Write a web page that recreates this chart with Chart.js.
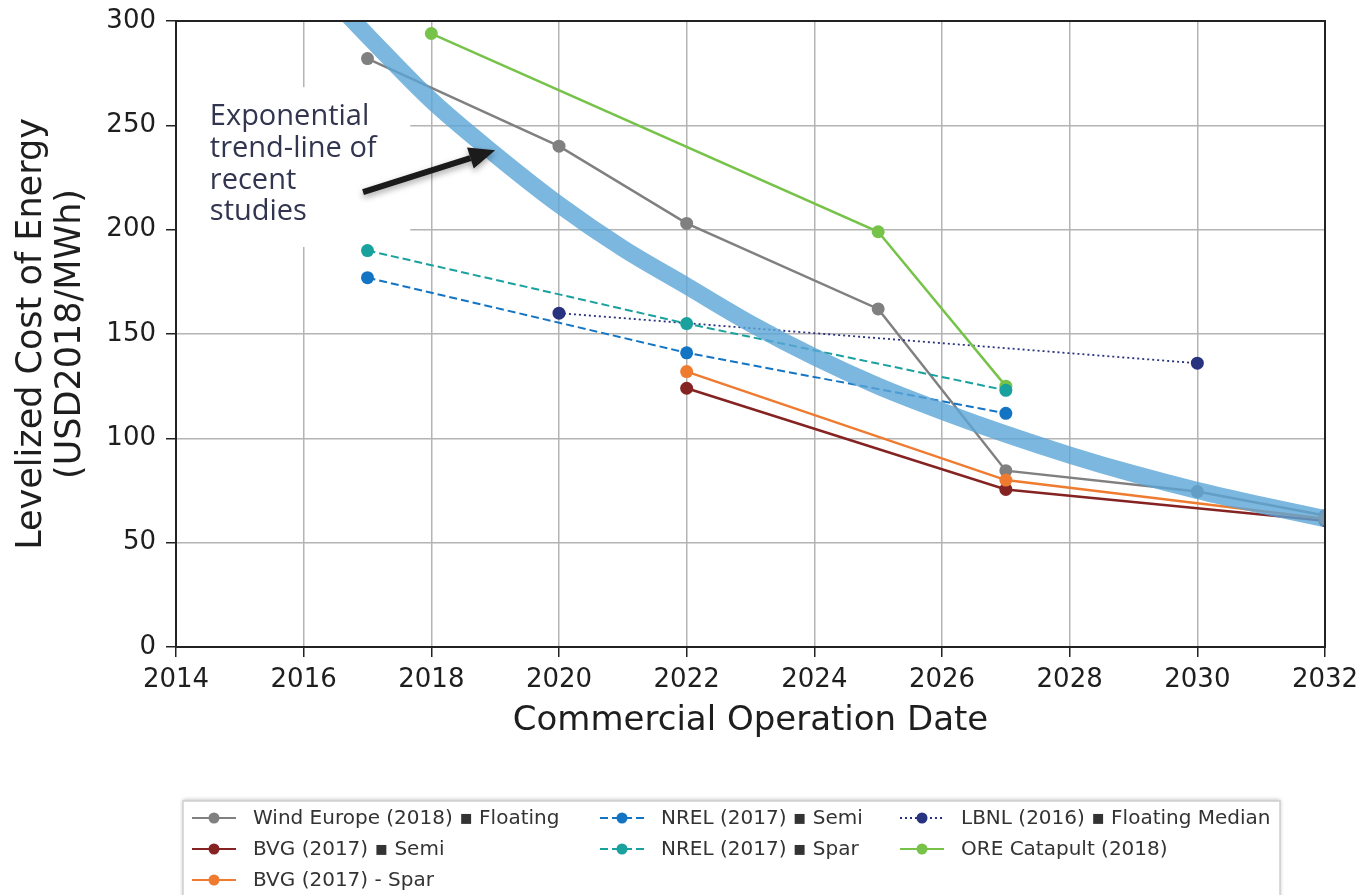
<!DOCTYPE html>
<html>
<head>
<meta charset="utf-8">
<script src="https://cdn.jsdelivr.net/npm/chart.js@4.4.1/dist/chart.umd.min.js"></script>
<style>
  html, body { margin: 0; background: #fff; }
  #wrap { width: 1363px; height: 895px; position: relative; }
</style>
</head>
<body>
<div id="wrap"><canvas id="lcoe"></canvas></div>
<script>
// ── Axis ticks ─────────────────────────────────────────────────────────────
const xTicks = [2014, 2016, 2018, 2020, 2022, 2024, 2026, 2028, 2030, 2032];
const yTicks = [0, 50, 100, 150, 200, 250, 300];

// ── Study estimates (USD2018/MWh by commercial operation year) ─────────────
const windEuropeYears = [2017, 2020, 2022, 2025, 2027, 2030, 2032];
const windEuropeLcoe  = [282, 240, 203, 162, 84.5, 74.5, 63];

const bvgSemiYears = [2022, 2027, 2032];
const bvgSemiLcoe  = [124, 75.5, 60.5];

const bvgSparYears = [2022, 2027, 2032];
const bvgSparLcoe  = [132, 80, 61.5];

const nrelSemiYears = [2017, 2022, 2027];
const nrelSemiLcoe  = [177, 141, 112];

const nrelSparYears = [2017, 2022, 2027];
const nrelSparLcoe  = [190, 155, 123];

const lbnlYears = [2020, 2030];
const lbnlLcoe  = [160, 136];

const oreYears = [2018, 2025, 2027];
const oreLcoe  = [294, 199, 125];

// exponential trend of the studies above
const trendYears = [2016.5, 2017, 2018, 2019, 2020, 2021, 2022, 2023, 2024, 2025, 2026, 2027, 2028, 2029, 2030, 2031, 2032];
const trendLcoe  = [309, 293, 262, 236, 212, 191, 173, 155, 139, 125, 113, 102, 92, 83, 75, 68, 61.5];

const NOTE_LINES = ['Exponential', 'trend-line of', 'recent', 'studies'];

// ── Look ───────────────────────────────────────────────────────────────────
const C = {
  gray:   '#808080',
  maroon: '#852222',
  orange: '#ee7b30',
  blue:   '#1474c4',
  teal:   '#19a19e',
  navy:   '#28337f',
  green:  '#77c34a',
  trend:  'rgba(90,165,215,0.8)',
  grid:   '#b4b4b4',
  axis:   '#222222',
  text:   '#1e1e1e',
  note:   '#32354f',
};
const SANS = "'DejaVu Sans', sans-serif";

// annotation placement, in data units
const NOTE = {
  box:   { x0: 2014, x1: 2017.67, y0: 191.7, y1: 268.3 },
  text:  { x: 2014.53, y: 250 },
  lineH: 31.7,
  tail:  { x: 2016.93, y: 218 },
  tip:   { x: 2019.0, y: 238.1 },
};

function series(label, xs, ys, color, extra) {
  return Object.assign({
    label,
    data: xs.map((x, i) => ({ x, y: ys[i] })),
    borderColor: color,
    backgroundColor: color,
    pointBackgroundColor: color,
    pointBorderColor: color,
    pointBorderWidth: 0,
    borderWidth: 2.5,
    pointRadius: 6.5,
    pointHoverRadius: 6.5,
    fill: false,
    tension: 0,
    clip: 0,
  }, extra);
}

const datasets = [
  series('Wind Europe (2018) ▪ Floating', windEuropeYears, windEuropeLcoe, C.gray,   { order: 8 }),
  series('BVG (2017) ▪ Semi',             bvgSemiYears,    bvgSemiLcoe,    C.maroon, { order: 7 }),
  series('BVG (2017) - Spar',             bvgSparYears,    bvgSparLcoe,    C.orange, { order: 6 }),
  series('NREL (2017) ▪ Semi',            nrelSemiYears,   nrelSemiLcoe,   C.blue,   { order: 5, borderWidth: 2, borderDash: [8, 4] }),
  series('NREL (2017) ▪ Spar',            nrelSparYears,   nrelSparLcoe,   C.teal,   { order: 2, borderWidth: 2, borderDash: [8, 4] }),
  series('LBNL (2016) ▪ Floating Median', lbnlYears,       lbnlLcoe,       C.navy,   { order: 4, borderWidth: 1.8, borderDash: [2, 3] }),
  series('ORE Catapult (2018)',           oreYears,        oreLcoe,        C.green,  { order: 3 }),
  {
    label: 'trend',
    data: trendYears.map((x, i) => ({ x, y: trendLcoe[i] })),
    borderColor: C.trend,
    borderWidth: 17,
    borderCapStyle: 'butt',
    pointRadius: 0,
    cubicInterpolationMode: 'monotone',
    fill: false,
    clip: 0,
    order: 1,
  },
];

// ── Plot frame (all four spines) ───────────────────────────────────────────
const framePlugin = {
  id: 'frame',
  afterDatasetsDraw(chart) {
    const { ctx, chartArea: a } = chart;
    ctx.save();
    ctx.strokeStyle = C.axis;
    ctx.lineWidth = 2;
    ctx.strokeRect(a.left, a.top, a.right - a.left, a.bottom - a.top);
    ctx.restore();
  },
};

// ── Trend-line callout ─────────────────────────────────────────────────────
const notePlugin = {
  id: 'trendNote',
  beforeDatasetsDraw(chart) {
    const { ctx, scales: { x, y } } = chart;
    const b = NOTE.box;
    const l = x.getPixelForValue(b.x0), r = x.getPixelForValue(b.x1);
    const t = y.getPixelForValue(b.y1), btm = y.getPixelForValue(b.y0);
    ctx.save();
    ctx.fillStyle = '#fff';
    ctx.fillRect(l + 1, t, r - l - 1, btm - t);
    ctx.restore();
  },
  afterDatasetsDraw(chart) {
    const { ctx, scales: { x, y } } = chart;
    ctx.save();

    // label
    ctx.fillStyle = C.note;
    ctx.font = "29px 'Open Sans', sans-serif";
    ctx.textAlign = 'left';
    ctx.textBaseline = 'alphabetic';
    const tx = x.getPixelForValue(NOTE.text.x);
    const ty = y.getPixelForValue(NOTE.text.y);
    NOTE_LINES.forEach((s, i) => ctx.fillText(s, tx, ty + i * NOTE.lineH));

    // arrow
    const x0 = x.getPixelForValue(NOTE.tail.x), y0 = y.getPixelForValue(NOTE.tail.y);
    const x1 = x.getPixelForValue(NOTE.tip.x),  y1 = y.getPixelForValue(NOTE.tip.y);
    const ang = Math.atan2(y1 - y0, x1 - x0);
    const headL = 26, headW = 11;
    const bx = x1 - headL * Math.cos(ang), by = y1 - headL * Math.sin(ang);
    ctx.shadowColor = 'rgba(0,0,0,0.35)';
    ctx.shadowBlur = 6;
    ctx.shadowOffsetY = 3;
    ctx.strokeStyle = '#1b1b1b';
    ctx.fillStyle = '#1b1b1b';
    ctx.lineWidth = 6;
    ctx.beginPath();
    ctx.moveTo(x0, y0);
    ctx.lineTo(bx, by);
    ctx.stroke();
    ctx.beginPath();
    ctx.moveTo(x1, y1);
    ctx.lineTo(bx + headW * Math.sin(ang), by - headW * Math.cos(ang));
    ctx.lineTo(bx - headW * Math.sin(ang), by + headW * Math.cos(ang));
    ctx.closePath();
    ctx.fill();
    ctx.restore();
  },
};

// ── Legend box below the plot, three columns filled top-down (3, 2, 2) ─────
const LEGEND = {
  box:  { left: 183, top: 801, right: 1280, bottom: 902 },
  cols: [192, 600, 900],
  rows: [818, 849, 880],
  perCol: [3, 2, 2],
  swatch: 44,
  gap: 17,
};

const legendPlugin = {
  id: 'boxLegend',
  afterDraw(chart) {
    const { ctx } = chart;
    const L = LEGEND;
    ctx.save();
    ctx.shadowColor = 'rgba(0,0,0,0.3)';
    ctx.shadowBlur = 4;
    ctx.shadowOffsetY = -1;
    ctx.fillStyle = '#fff';
    ctx.fillRect(L.box.left, L.box.top, L.box.right - L.box.left, L.box.bottom - L.box.top);
    ctx.shadowColor = 'transparent';
    ctx.strokeStyle = '#cfcfcf';
    ctx.lineWidth = 1.5;
    ctx.strokeRect(L.box.left, L.box.top, L.box.right - L.box.left, L.box.bottom - L.box.top);

    const items = chart.data.datasets.filter(d => d.label !== 'trend');
    let idx = 0;
    L.perCol.forEach((n, col) => {
      for (let row = 0; row < n && idx < items.length; row++, idx++) {
        const d = items[idx];
        const x = L.cols[col], y = L.rows[row];
        ctx.strokeStyle = d.borderColor;
        ctx.lineWidth = Math.min(d.borderWidth, 2.2);
        ctx.setLineDash(d.borderDash || []);
        ctx.beginPath();
        ctx.moveTo(x, y);
        ctx.lineTo(x + L.swatch, y);
        ctx.stroke();
        ctx.setLineDash([]);
        ctx.fillStyle = d.borderColor;
        ctx.beginPath();
        ctx.arc(x + L.swatch / 2, y, 5.5, 0, Math.PI * 2);
        ctx.fill();

        ctx.fillStyle = '#333';
        ctx.font = `20px ${SANS}`;
        ctx.textAlign = 'left';
        ctx.textBaseline = 'middle';
        ctx.fillText(d.label, x + L.swatch + L.gap, y + 1);
      }
    });
    ctx.restore();
  },
};

// ── Chart ──────────────────────────────────────────────────────────────────
new Chart(document.getElementById('lcoe').getContext('2d'), {
  type: 'line',
  data: { datasets },
  options: {
    responsive: true,
    maintainAspectRatio: false,
    animation: false,
    events: [],
    layout: { padding: { top: 21, right: 38, bottom: 148, left: 0 } },
    plugins: {
      legend: { display: false },
      tooltip: { enabled: false },
    },
    scales: {
      x: {
        type: 'linear',
        min: 2014,
        max: 2032,
        afterBuildTicks: s => { s.ticks = xTicks.map(v => ({ value: v })); },
        afterFit: s => { s.height = 100; s.paddingLeft = 0; s.paddingRight = 0; },
        grid: { color: C.grid, lineWidth: 1.5, tickColor: C.axis, tickLength: 10, tickWidth: 1.5 },
        border: { display: false },
        ticks: {
          color: C.text,
          font: { family: SANS, size: 26 },
          padding: 8,
          maxRotation: 0,
          autoSkip: false,
          callback: v => String(v),
        },
        title: {
          display: true,
          text: 'Commercial Operation Date',
          color: C.text,
          font: { family: SANS, size: 34, lineHeight: 1.2 },
          padding: { top: 0, bottom: 5 },
        },
      },
      y: {
        min: 0,
        max: 300,
        afterBuildTicks: s => { s.ticks = yTicks.map(v => ({ value: v })); },
        afterFit: s => { s.width = 176; s.paddingTop = 0; s.paddingBottom = 0; },
        grid: { color: C.grid, lineWidth: 1.5, tickColor: C.axis, tickLength: 10, tickWidth: 1.5 },
        border: { display: false },
        ticks: {
          color: C.text,
          font: { family: SANS, size: 26 },
          padding: 10,
          autoSkip: false,
          callback: v => String(v),
        },
        title: {
          display: true,
          text: ['Levelized Cost of Energy', '(USD2018/MWh)'],
          color: C.text,
          font: { family: SANS, size: 35, lineHeight: 1.1 },
          padding: { top: 13, bottom: 0 },
        },
      },
    },
  },
  plugins: [notePlugin, framePlugin, legendPlugin],
});
</script>
</body>
</html>
